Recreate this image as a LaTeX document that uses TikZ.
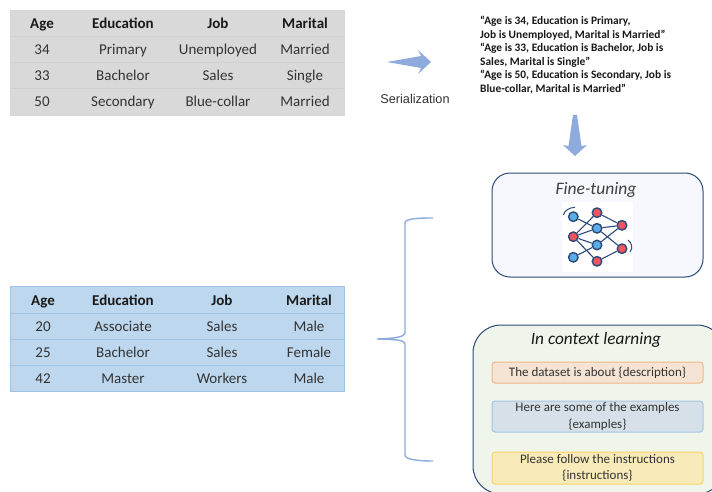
\documentclass[tikz,border=0pt]{standalone}
\usepackage{fontspec}
\setmainfont{Carlito}
\newfontfamily\serfont{Liberation Sans}
\usetikzlibrary{shapes}

\definecolor{arrowblue}{HTML}{8FAADC}
\definecolor{inkdark}{HTML}{2C4A78}
\definecolor{cellblue}{HTML}{BDD7EE}
\definecolor{ruleblue}{HTML}{9DC3E6}
\definecolor{neuronblue}{HTML}{5AAEE8}
\definecolor{neuronred}{HTML}{EE5560}
\begin{document}
\begin{tikzpicture}[x=1pt,y=-1pt]
\tikzstyle{headcell}=[inner sep=0pt,text height=14pt,text depth=3pt,font=\fontsize{15}{17}\selectfont\bfseries,text=black!90]
\tikzstyle{datacell}=[inner sep=0pt,text height=14pt,text depth=3pt,font=\fontsize{15}{17}\selectfont,text=black!80]
\tikzstyle{graytab}=[rectangle,inner sep=0pt,fill=gray!30,draw=gray!32,line width=0.6pt,minimum width=334pt,minimum height=105pt]
\tikzstyle{bluetab}=[rectangle,inner sep=0pt,fill=cellblue,draw=ruleblue,line width=1pt,minimum width=334pt,minimum height=105pt]
\tikzstyle{bigbox}=[rectangle,rounded corners=#1,draw=inkdark,line width=1pt,inner sep=0pt]
\tikzstyle{promptbox}=[rectangle,rounded corners=3pt,line width=1pt,inner sep=0pt,minimum width=211pt,align=center,text=black!80,font=\fontsize{13}{16.5}\selectfont]
\tikzstyle{neuron}=[circle,draw=inkdark,line width=1.4pt,inner sep=0pt,minimum size=9.5pt]
\tikzstyle{synapse}=[draw=inkdark,line width=1.1pt]
\tikzstyle{fatarrow}=[fill=arrowblue,draw=none]
\useasboundingbox (0,0) rectangle (712,492);
\clip (0,0) rectangle (712,492);
\fill[white] (0,0) rectangle (712,492);

% top table
\node[graytab](top) at (177,62.5) {};
\draw[gray!38,line width=0.6pt] (top.west |- 0,36.5) -- (top.east |- 0,36.5);
\draw[gray!38,line width=0.6pt] (top.west |- 0,62.5) -- (top.east |- 0,62.5);
\draw[gray!38,line width=0.6pt] (top.west |- 0,88.5) -- (top.east |- 0,88.5);
\node[headcell](a0) at (42,23.5) {Age};
\node[headcell](e0) at (123,23.5) {Education};
\node[headcell](j0) at (218,23.5) {Job};
\node[headcell](m0) at (305,23.5) {Marital};
\node[datacell](a1) at (42,49.5) {34};
\node[datacell](e1) at (123,49.5) {Primary};
\node[datacell](j1) at (218,49.5) {Unemployed};
\node[datacell](m1) at (305,49.5) {Married};
\node[datacell](a2) at (42,75.5) {33};
\node[datacell](e2) at (123,75.5) {Bachelor};
\node[datacell](j2) at (218,75.5) {Sales};
\node[datacell](m2) at (305,75.5) {Single};
\node[datacell](a3) at (42,101.5) {50};
\node[datacell](e3) at (123,101.5) {Secondary};
\node[datacell](j3) at (218,101.5) {Blue-collar};
\node[datacell](m3) at (305,101.5) {Married};

% bottom table
\node[bluetab](low) at (177,338.5) {};
\draw[ruleblue,line width=0.8pt] (low.west |- 0,313) -- (low.east |- 0,313);
\draw[ruleblue,line width=0.8pt] (low.west |- 0,339) -- (low.east |- 0,339);
\draw[ruleblue,line width=0.8pt] (low.west |- 0,365) -- (low.east |- 0,365);
\node[headcell](b0) at (43,299.5) {Age};
\node[headcell](f0) at (123,299.5) {Education};
\node[headcell](k0) at (222,299.5) {Job};
\node[headcell](n0) at (309,299.5) {Marital};
\node[datacell](b1) at (43,326) {20};
\node[datacell](f1) at (123,326) {Associate};
\node[datacell](k1) at (222,326) {Sales};
\node[datacell](n1) at (309,326) {Male};
\node[datacell](b2) at (43,352) {25};
\node[datacell](f2) at (123,352) {Bachelor};
\node[datacell](k2) at (222,352) {Sales};
\node[datacell](n2) at (309,352) {Female};
\node[datacell](b3) at (43,378) {42};
\node[datacell](f3) at (123,378) {Master};
\node[datacell](k3) at (222,378) {Workers};
\node[datacell](n3) at (309,378) {Male};

% serialization
\fill[fatarrow] (387,62) -- (421,56) -- (418,50) -- (431,62) -- (418,74) -- (421,68) -- cycle;
\node[inner sep=0pt,font=\serfont\fontsize{12.7}{14}\selectfont,text=black!80](ser) at (415,99) {Serialization};
\node[inner sep=0pt,anchor=north west,align=left,font=\fontsize{11.4}{13.5}\selectfont\bfseries,text=black!90](sentences) at (480,16) {%
``Age is 34, Education is Primary,\\
Job is Unemployed, Marital is Married"\\
``Age is 33, Education is Bachelor, Job is\\
Sales, Marital is Single"\\
``Age is 50, Education is Secondary, Job is\\
Blue-collar, Marital is Married"};
\fill[fatarrow] (573,115) -- (577,115) -- (581.5,146) -- (587,145) -- (575,156) -- (563,145) -- (568.5,146) -- cycle;

% fine-tuning
\node[bigbox=18pt,fill={rgb,255:red,246;green,248;blue,253},minimum width=211pt,minimum height=104pt](fine) at (597.5,225) {};
\node[inner sep=0pt,font=\fontsize{17.5}{19}\selectfont\itshape,text=black!75](finetitle) at (596,189.5) {Fine-tuning};
\node[fill=white,inner sep=0pt,minimum width=71pt,minimum height=70pt](icon) at (597.5,237) {};
\draw[inkdark,line width=1pt] (563.5,215) .. controls (564,211) and (569,207.5) .. (575,207.3);
\draw[inkdark,line width=1pt] (628,240) .. controls (632,243) and (633,248) .. (630,252);
\node[neuron,fill=neuronblue](i1) at (573.3,216.7) {};
\node[neuron,fill=neuronred](i2) at (573.3,236.7) {};
\node[neuron,fill=neuronblue](i3) at (573.3,257.3) {};
\node[neuron,fill=neuronred](h1) at (597,212.7) {};
\node[neuron,fill=neuronblue](h2) at (597,228.3) {};
\node[neuron,fill=neuronblue](h3) at (597,245) {};
\node[neuron,fill=neuronred](h4) at (597,261.3) {};
\node[neuron,fill=neuronred](o1) at (622,225.3) {};
\node[neuron,fill=neuronred](o2) at (622,248.7) {};
\draw[synapse] (i1) -- (h2);
\draw[synapse] (i2) -- (h1);
\draw[synapse] (i2) -- (h2);
\draw[synapse] (i2) -- (h3);
\draw[synapse] (i2) -- (h4);
\draw[synapse] (i3) -- (h3);
\draw[synapse] (h1) -- (o1);
\draw[synapse] (h2) -- (o1);
\draw[synapse] (h2) -- (o2);
\draw[synapse] (h3) -- (o1);
\draw[synapse] (h4) -- (o2);

% in context learning
\node[bigbox=28pt,fill={rgb,255:red,240;green,245;blue,236},minimum width=252pt,minimum height=169pt](ctx) at (599,409.5) {};
\node[inner sep=0pt,font=\fontsize{17.3}{19}\selectfont\itshape,text=black!90](ctxtitle) at (596,340) {In context learning};
\node[promptbox,fill={rgb,255:red,245;green,228;blue,211},draw={rgb,255:red,240;green,183;blue,138},minimum height=21pt](descr) at (597.5,372.5) {The dataset is about \{description\}};
\node[promptbox,fill={rgb,255:red,213;green,224;blue,232},draw={rgb,255:red,166;green,196;blue,230},minimum height=31pt](exmp) at (597.5,416.5) {Here are some of the examples\\\{examples\}};
\node[promptbox,fill={rgb,255:red,248;green,235;blue,185},draw={rgb,255:red,247;green,213;blue,104},minimum height=32pt](instr) at (597.5,468) {Please follow the instructions\\\{instructions\}};

% brace
\coordinate (braceup) at (433,218);
\coordinate (bracetip) at (377,339);
\coordinate (bracelow) at (433,461);
\draw[arrowblue,line width=1.4pt] (braceup) .. controls (418,218) and (405,218.5) .. (405,223) -- (405,333) .. controls (405,336.5) and (396,338.5) .. (bracetip) .. controls (396,339.5) and (405,340) .. (405,344) -- (405,455) .. controls (405,459.5) and (418,461) .. (bracelow);
\end{tikzpicture}
\end{document}
